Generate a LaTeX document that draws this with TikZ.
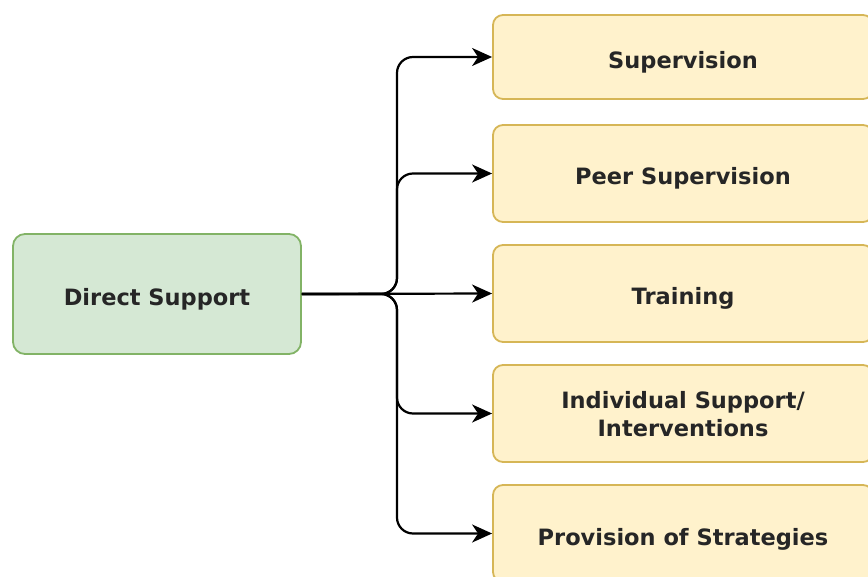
\documentclass[tikz,border=0pt]{standalone}
\usepackage{fontspec}
\setmainfont{DejaVu Sans}
\usetikzlibrary{arrows.meta}
\definecolor{gfill}{HTML}{D5E8D4}
\definecolor{gline}{HTML}{82B366}
\definecolor{yfill}{HTML}{FFF2CC}
\definecolor{yline}{HTML}{D6B656}
\tikzset{
  srcbox/.style={draw=gline, fill=gfill, line width=1.8pt, rounded corners=12pt,
    minimum width=288pt, minimum height=120pt, inner sep=0pt, align=center,
    text height=24pt, text depth=1pt,
    font=\fontsize{22.5}{28}\selectfont\bfseries, text=black!85},
  tgtbase/.style={draw=yline, fill=yfill, line width=1.8pt, rounded corners=10pt,
    minimum width=380pt, minimum height=97pt, inner sep=0pt, align=center,
    font=\fontsize{22.5}{28}\selectfont\bfseries, text=black!85},
  tgtbox/.style={tgtbase, text height=24pt, text depth=1pt},
  conn/.style={line width=2.2pt, rounded corners=16pt,
    -{Stealth[length=20pt,width=18pt,inset=6pt]}},
}
\begin{document}
\begin{tikzpicture}[x=1pt,y=-1pt]
\useasboundingbox (0,0) rectangle (868,577);
\clip (0,0) rectangle (868,577);
\node[srcbox] (ds) at (157,294) {Direct Support};
\node[tgtbox, minimum height=84pt] (sup) at (683,57) {Supervision};
\node[tgtbox] (peer) at (683,173.5) {Peer Supervision};
\node[tgtbox] (tr) at (683,293.5) {Training};
\node[tgtbase] (ind) at (683,413.5) {\raisebox{-3pt}[\height][\depth]{\begin{tabular}{@{}c@{}}Individual Support/\\Interventions\end{tabular}}};
\node[tgtbox] (prov) at (683,533.5) {Provision of Strategies};
\coordinate (bus) at (397,294);
\draw[conn] (ds.east) -- (bus) |- (sup.west);
\draw[conn] (ds.east) -- (bus) |- (peer.west);
\draw[conn] (ds.east) -- (tr.west);
\draw[conn] (ds.east) -- (bus) |- (ind.west);
\draw[conn] (ds.east) -- (bus) |- (prov.west);
\end{tikzpicture}
\end{document}
